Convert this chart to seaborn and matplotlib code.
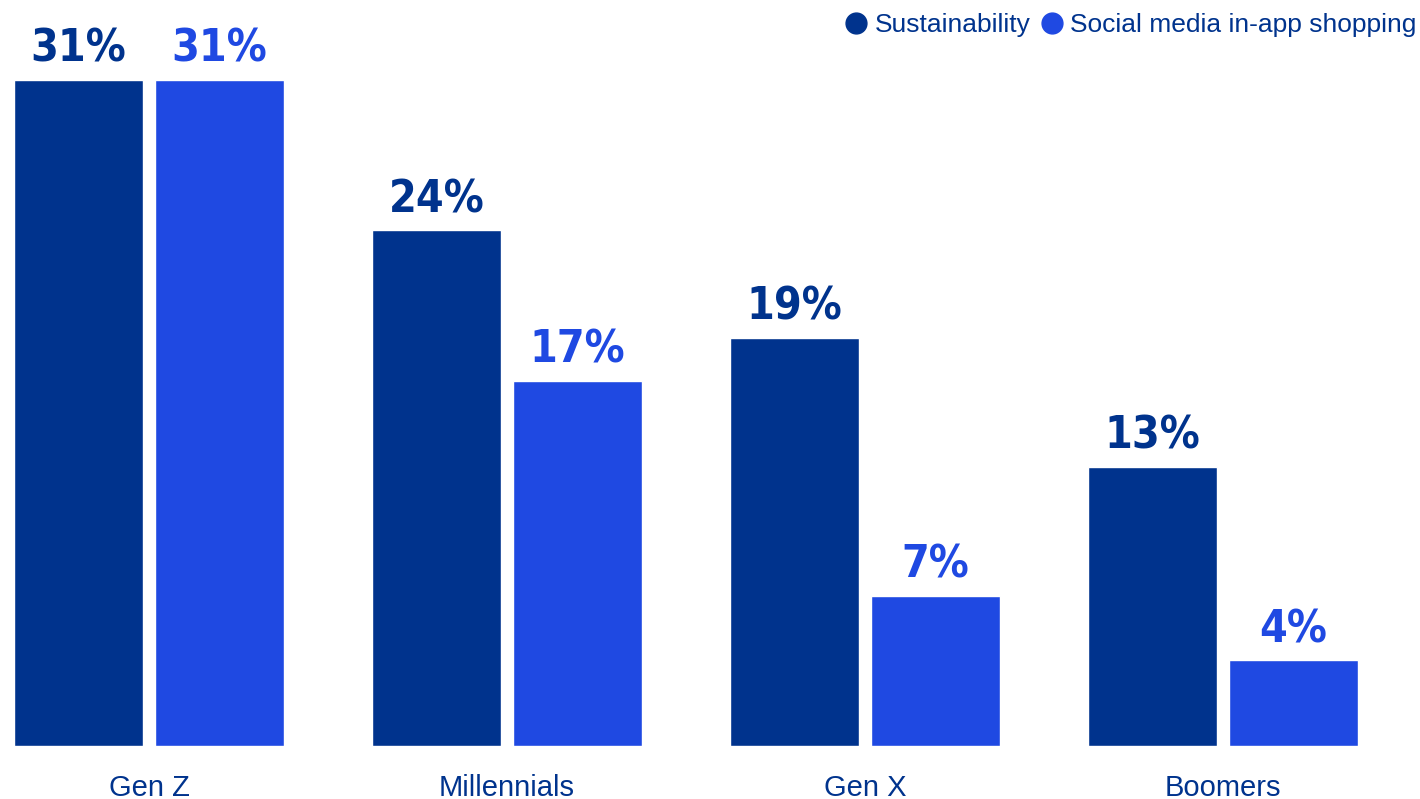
import pandas as pd
import seaborn as sns
import matplotlib.pyplot as plt
from matplotlib import font_manager as fm
from matplotlib.lines import Line2D

# Data
generations = ['Gen Z', 'Millennials', 'Gen X', 'Boomers']
sustainability = [31, 24, 19, 13]
social_shopping = [31, 17, 7, 4]
series_names = ['Sustainability', 'Social media in-app shopping']
colors = ['#00338D', '#1F49E2']
text_color = '#00338D'

df = pd.DataFrame({
    'generation': generations * 2,
    'value': sustainability + social_shopping,
    'series': [series_names[0]] * 4 + [series_names[1]] * 4,
})

sns.set_theme(style='white')
plt.rcParams['font.family'] = ['Liberation Sans', 'DejaVu Sans']

# look for a condensed bold face for the value labels
label_font = None
for f in fm.fontManager.ttflist:
    narrow = ('Condensed' in f.name or 'Narrow' in f.name
              or (isinstance(f.stretch, str) and 'condensed' in f.stretch))
    if narrow and f.weight in ('bold', 700, 'heavy', 800):
        label_font = fm.FontProperties(fname=f.fname)
        break
if label_font is None:
    label_font = fm.FontProperties(family='DejaVu Sans', weight='bold',
                                   stretch='condensed')
label_font.set_size(32)

fig = plt.figure(figsize=(14.2, 7.99), dpi=100)
ax = fig.add_axes([0, 53 / 799, 1, 666 / 799])

sns.barplot(data=df, x='generation', y='value', hue='series',
            palette=colors, width=0.788, gap=0.08, ax=ax,
            saturation=1, legend=False)

ax.set_xlim(-149 / 358, (1420 - 149) / 358)
ax.set_ylim(0, 31)
ax.set_xlabel('')
ax.set_ylabel('')
ax.set_yticks([])
for s in ax.spines.values():
    s.set_visible(False)
ax.tick_params(axis='x', length=0, pad=20, labelsize=21, labelcolor=text_color)

# Value labels
for cont, col in zip(ax.containers, colors):
    labels = ax.bar_label(cont, fmt='%d%%', padding=6.5, color=col,
                          fontproperties=label_font)
    for t in labels:
        t.set_clip_on(False)

# Legend
handles = [Line2D([], [], marker='o', linestyle='', markersize=15,
                  markerfacecolor=c, markeredgecolor=c) for c in colors]
leg = fig.legend(handles, series_names, loc='upper right',
                 bbox_to_anchor=(1430 / 1420, 1.0), ncol=2, frameon=False,
                 fontsize=19, handletextpad=0.15, columnspacing=0.25,
                 handlelength=1.1, borderaxespad=0.1)
for t in leg.get_texts():
    t.set_color(text_color)

fig.savefig('out.png', dpi=100)
